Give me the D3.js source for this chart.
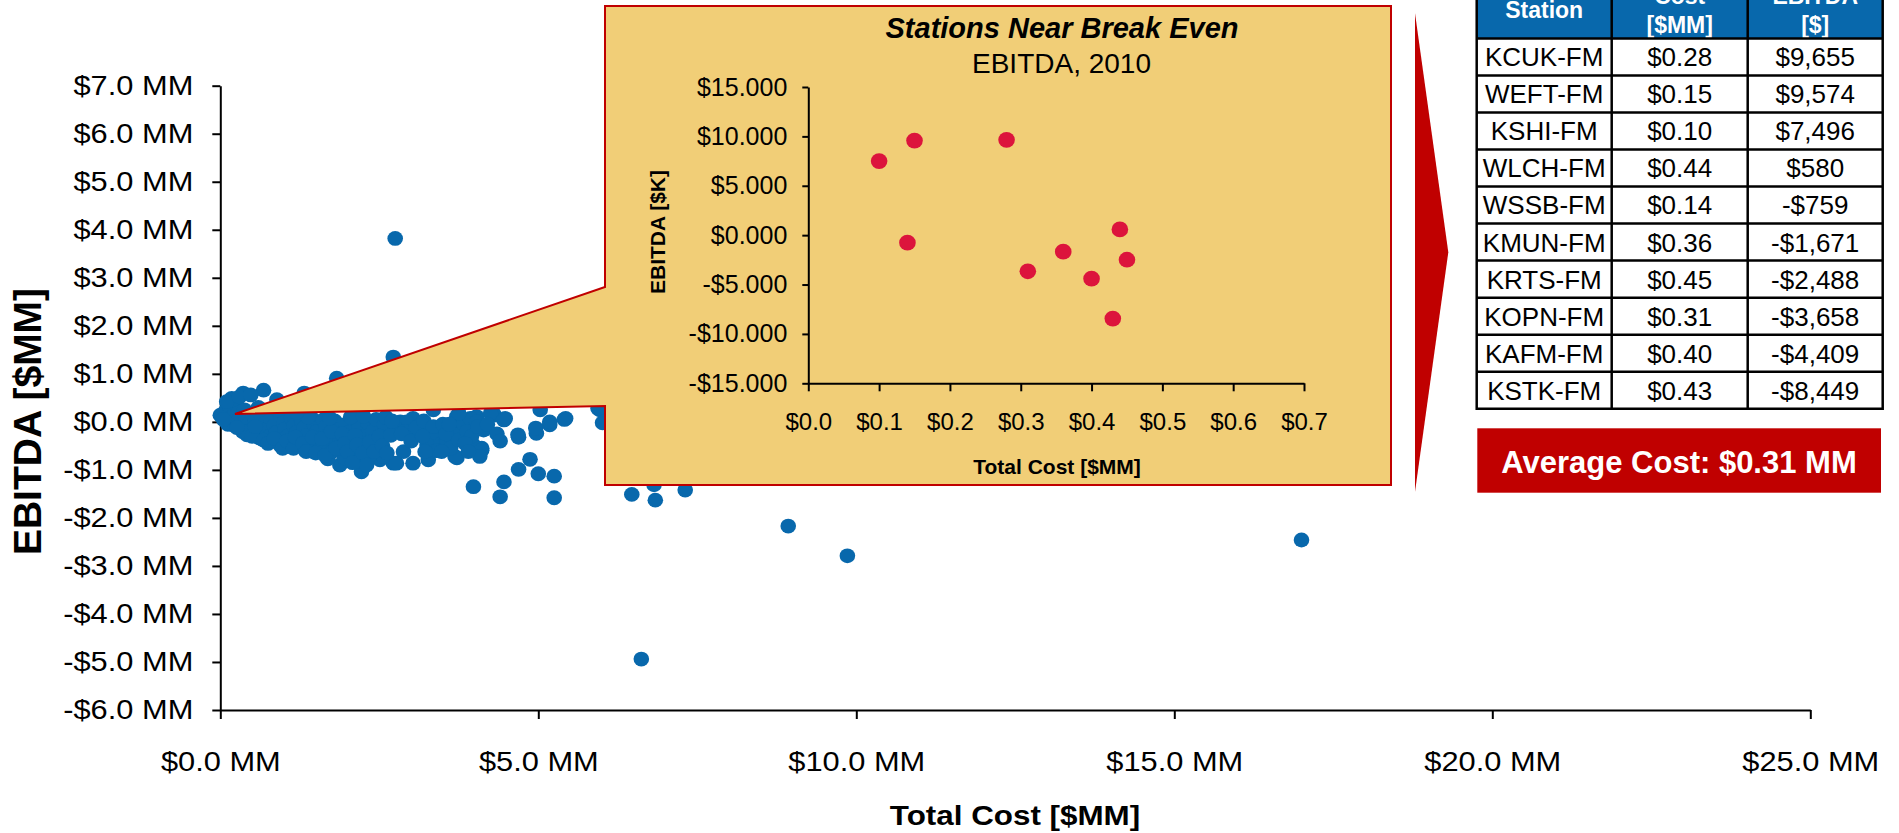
<!DOCTYPE html>
<html><head><meta charset="utf-8">
<script src="https://cdn.jsdelivr.net/npm/d3@7"></script>
<style>
body{margin:0;background:#fff;}
svg{display:block;}
text{font-family:Arial,"Liberation Sans",sans-serif;}
</style>
</head><body>
<svg id="c" width="1899" height="833"></svg>
<script>
// ---------- DATA ----------
const xTicks = [0, 5, 10, 15, 20, 25];
const yTicks = [-6, -5, -4, -3, -2, -1, 0, 1, 2, 3, 4, 5, 6, 7];
// all stations: total cost [$MM] and EBITDA [$MM]
const totalCost = [
 2.75,2.72,6.62,8.93,9.86,17.00,6.47,6.84,7.31,6.82,6.01,5.97,
 0.00,0.18,0.36,0.68,1.83,0.20,0.89,1.32,
 0.20,0.42,0.62,0.94,1.41,1.88,2.22,2.51,2.72,3.03,3.27,3.69,3.98,4.40,4.11,
 0.73,1.04,1.25,1.52,1.78,2.04,2.30,2.41,2.62,2.83,3.03,3.30,3.45,3.66,3.82,4.03,4.14,4.29,
 3.35,2.56,2.72,3.01,2.93,3.14,3.30,3.40,3.45,3.56,3.72,3.82,3.93,4.03,3.98,4.11,4.08,3.72,2.77,2.56,2.88,
 4.31,4.48,4.69,4.97,5.18,5.41,5.03,5.94,4.87,4.69,4.46,5.00,5.25,5.25,
 3.75,4.25,4.46,5.43,4.68,4.96,5.18,1.69,
 0.03,0.08,0.10,0.15,0.18,0.22,0.25,0.28,0.30,0.33,0.38,0.40,0.45,0.48,0.52,0.55,0.58,0.62,0.65,0.70,
 0.72,0.78,0.80,0.85,0.88,0.92,0.95,1.00,1.02,1.06,1.10,1.12,1.16,1.20,1.25,1.28,1.32,1.36,1.40,1.45,
 1.48,1.52,1.55,1.58,1.62,1.66,1.70,1.72,1.76,1.80,1.84,1.88,1.90,1.95,1.98,2.02,2.06,2.10,2.14,2.18,
 2.20,2.25,2.28,2.32,2.36,2.40,2.45,2.48,2.52,2.58,2.75,2.90,3.08,3.20,3.25,3.35,3.40,3.50,3.55,3.62,
 3.75,3.88,3.95,4.05,4.20,4.35,4.40,
 0.35,0.50,0.55,0.68,0.75,0.85,0.98,1.05,1.15,1.18,1.30,1.35,1.45,1.50,1.60,1.65,1.75,1.82,1.92,1.96,
 2.00,2.08,2.12,2.15,2.24,2.30,2.35,2.42,2.50,2.55,2.62,2.68,2.85,3.00,3.18,3.22,3.48,3.60,3.85,3.90,
 0.12,0.26,0.05,1.38,1.72,2.05,2.25,2.60,2.70,0.60,0.90,1.20,0.10,0.30,0.48
];
const ebitdaMM = [
 3.82,1.35,-4.94,-2.17,-2.79,-2.46,-1.51,-1.63,-1.42,-1.31,-0.02,0.25,
 0.14,0.49,0.60,0.66,0.91,0.46,0.46,0.60,
 -0.06,-0.27,-0.34,-0.48,-0.58,-0.90,-1.04,-0.79,-0.86,-0.86,-0.79,-0.72,-1.35,-1.56,-0.55,
 -0.10,-0.20,-0.10,-0.24,-0.38,-0.31,-0.13,-0.45,-0.10,0.00,0.07,-0.20,-0.38,-0.17,0.04,0.11,-0.17,0.18,
 0.25,-0.17,-0.20,-0.27,0.00,-0.06,-0.38,-0.31,-0.48,-0.38,0.11,-0.03,0.07,0.00,-0.48,-0.59,-0.72,-0.75,-0.86,-0.72,-0.62,
 0.14,0.07,-0.32,-0.24,-0.06,0.05,0.25,0.28,-0.78,-0.99,-1.25,-1.08,-1.13,-1.58,
 0.18,0.18,0.04,0.07,-0.27,-0.13,0.00,-0.77,
 0.12,0.22,0.02,0.30,0.10,-0.02,0.38,0.18,0.05,-0.10,0.25,0.08,-0.05,-0.18,0.15,0.02,-0.12,-0.25,0.10,-0.03,
 -0.16,-0.30,0.05,-0.08,-0.22,-0.38,0.12,-0.02,-0.15,-0.30,-0.45,0.08,-0.08,-0.22,-0.36,0.02,-0.12,-0.28,-0.48,0.06,
 -0.06,-0.20,-0.40,-0.55,0.04,-0.10,-0.28,-0.45,-0.62,0.02,-0.16,-0.36,-0.52,-0.75,-0.05,-0.22,-0.42,-0.60,0.08,-0.12,
 -0.80,-0.30,-0.52,-0.02,-0.68,-0.20,0.05,-0.38,-0.58,-0.05,-0.12,-0.20,-0.12,0.02,-0.48,-0.10,-0.60,-0.05,-0.25,-0.55,
 -0.38,-0.20,-0.30,-0.10,-0.05,-0.25,-0.40,
 -0.20,-0.30,-0.10,-0.38,-0.45,-0.35,-0.55,-0.40,-0.55,-0.32,-0.45,-0.62,-0.32,-0.65,-0.35,-0.70,-0.20,-0.55,-0.25,-0.45,
 -0.62,-0.85,-0.28,-0.48,-0.65,-0.90,-0.42,-0.62,-0.30,-0.50,-0.65,-0.28,-0.25,-0.40,-0.30,-0.62,-0.62,-0.05,-0.45,-0.62,
 -0.05,-0.12,0.05,0.10,0.08,0.10,0.12,0.10,0.02,0.30,0.25,0.20,0.42,0.52,0.56
];
// stations near break even
const stations = ["KCUK-FM","WEFT-FM","KSHI-FM","WLCH-FM","WSSB-FM","KMUN-FM","KRTS-FM","KOPN-FM","KAFM-FM","KSTK-FM"];
const stationCost = [0.28,0.15,0.10,0.44,0.14,0.36,0.45,0.31,0.40,0.43];
const stationEbitda = [9655,9574,7496,580,-759,-1671,-2488,-3658,-4409,-8449];
const insetXTicks = [0,0.1,0.2,0.3,0.4,0.5,0.6,0.7];
const insetYTicks = [-15,-10,-5,0,5,10,15];
const headers = [["Station"],["Cost","[$MM]"],["EBITDA","[$]"]];
const insetTitle = "Stations Near Break Even";
const insetSubtitle = "EBITDA, 2010";
const averageLabel = "Average Cost: $0.31 MM";

// ---------- DRAW ----------
const svg = d3.select("#c");
const RED = "#C00000", BLUE = "#0868AC", GOLD = "#F1CE77";
const FONT = 'Arial,"Liberation Sans",sans-serif';

function stretch(sel, f){
  sel.each(function(){
    const l = this.getComputedTextLength();
    this.setAttribute("textLength", l*f);
    this.setAttribute("lengthAdjust","spacingAndGlyphs");
  });
}

const x = d3.scaleLinear().domain([0,25]).range([220.3,1810.3]);
const y = d3.scaleLinear().domain([-6,7]).range([710,85.7]);

const money1 = d => (d<0?"-":"") + "$" + Math.abs(d).toFixed(1) + " MM";

const gx = svg.append("g").attr("transform","translate(0,710)")
  .call(d3.axisBottom(x).tickValues(xTicks).tickSize(9).tickSizeOuter(0).tickFormat(money1));
gx.attr("font-size",28).attr("font-family",FONT);
gx.selectAll("text").attr("y",61).attr("dy",0).attr("fill","#000");

const gy = svg.append("g").attr("transform","translate(220.3,0)")
  .call(d3.axisLeft(y).tickValues(yTicks).tickSize(8).tickPadding(19).tickSizeOuter(0).tickFormat(money1));
gy.attr("font-size",28).attr("font-family",FONT);
gy.selectAll("text").attr("fill","#000");

[gx,gy].forEach(g=>{
  g.select(".domain").attr("stroke","#000").attr("stroke-width",2);
  g.selectAll(".tick line").attr("stroke","#000").attr("stroke-width",2);
});
stretch(gx.selectAll("text"),1.1);
stretch(gy.selectAll("text"),1.1);

const xt = svg.append("text").attr("x",1015).attr("y",825).attr("text-anchor","middle")
  .attr("font-size",28).attr("font-weight","bold").text("Total Cost [$MM]");
stretch(xt,1.12);
svg.append("text").attr("transform","translate(41,421.5) rotate(-90)").attr("text-anchor","middle")
  .attr("font-size",39).attr("font-weight","bold").text("EBITDA [$MM]");

// main dots
svg.append("g").selectAll("ellipse").data(totalCost.map((c,i)=>[c,ebitdaMM[i]])).join("ellipse")
  .attr("cx",d=>x(d[0])).attr("cy",d=>y(d[1])).attr("rx",7.8).attr("ry",7.4).attr("fill",BLUE);

// callout box
svg.append("path")
  .attr("d","M605,6 H1391 V485 H605 V406 L235,414 L605,287 Z")
  .attr("fill",GOLD).attr("stroke",RED).attr("stroke-width",2).attr("stroke-linejoin","miter");

// inset chart
const ix = d3.scaleLinear().domain([0,0.7]).range([808.3,1304]);
const iy = d3.scaleLinear().domain([-15,15]).range([383.3,87]);
const igx = svg.append("g").attr("transform","translate(0,383.3)")
  .call(d3.axisBottom(ix).tickValues(insetXTicks).tickSize(8).tickSizeOuter(0).tickFormat(d=>"$"+d.toFixed(1)));
igx.attr("font-size",24).attr("font-family",FONT);
igx.selectAll("text").attr("y",47).attr("dy",0).attr("fill","#000");
const igy = svg.append("g").attr("transform","translate(808.3,0)")
  .call(d3.axisLeft(iy).tickValues(insetYTicks).tickSize(6).tickPadding(15).tickSizeOuter(0)
  .tickFormat(d=>(d<0?"-":"")+"$"+Math.abs(d).toFixed(3)));
igy.attr("font-size",25).attr("font-family",FONT);
igy.selectAll("text").attr("fill","#000");
[igx,igy].forEach(g=>{
  g.select(".domain").attr("stroke","#000").attr("stroke-width",2);
  g.selectAll(".tick line").attr("stroke","#000").attr("stroke-width",2);
});

svg.append("text").attr("x",1062).attr("y",38).attr("text-anchor","middle")
  .attr("font-size",29).attr("font-weight","bold").attr("font-style","italic").text(insetTitle);
svg.append("text").attr("x",1061.5).attr("y",72.5).attr("text-anchor","middle")
  .attr("font-size",28).text(insetSubtitle);
svg.append("text").attr("x",1057).attr("y",474).attr("text-anchor","middle")
  .attr("font-size",21).attr("font-weight","bold").text("Total Cost [$MM]");
svg.append("text").attr("transform","translate(665,232) rotate(-90)").attr("text-anchor","middle")
  .attr("font-size",21).attr("font-weight","bold").text("EBITDA [$K]");

svg.append("g").selectAll("ellipse").data(stationCost.map((c,i)=>[c,stationEbitda[i]/1000])).join("ellipse")
  .attr("cx",d=>ix(d[0])).attr("cy",d=>iy(d[1])).attr("rx",8.3).attr("ry",7.9).attr("fill","#DC143C");

// chevron arrow
svg.append("path").attr("d","M1415,13.3 L1448.3,252.3 L1415,491.7 Z").attr("fill",RED);

// table
const colX = [1476.7,1611.7,1747.7,1882.7];
const rowTop = 38.5, rowH = 37.02;
const tg = svg.append("g");
tg.append("rect").attr("x",colX[0]).attr("y",-30).attr("width",colX[3]-colX[0]).attr("height",rowTop+30).attr("fill",BLUE);
headers.forEach((h,i)=>{
  const cx = (colX[i]+colX[i+1])/2;
  if(h.length===1){
    tg.append("text").attr("x",cx).attr("y",18.3).attr("text-anchor","middle").attr("fill","#fff")
      .attr("font-size",23).attr("font-weight","bold").text(h[0]);
  } else {
    tg.append("text").attr("x",cx).attr("y",4).attr("text-anchor","middle").attr("fill","#fff")
      .attr("font-size",23).attr("font-weight","bold").text(h[0]);
    tg.append("text").attr("x",cx).attr("y",33).attr("text-anchor","middle").attr("fill","#fff")
      .attr("font-size",23).attr("font-weight","bold").text(h[1]);
  }
});
const fmtE = v => (v<0?"-":"")+"$"+d3.format(",")(Math.abs(v));
stations.forEach((s,r)=>{
  const cy = rowTop + rowH*(r+0.5) + 9.4;
  const vals = [s, "$"+stationCost[r].toFixed(2), fmtE(stationEbitda[r])];
  vals.forEach((v,i)=>{
    tg.append("text").attr("x",(colX[i]+colX[i+1])/2).attr("y",cy).attr("text-anchor","middle")
      .attr("font-size",26).attr("fill","#000").text(v);
  });
});
const tableBottom = rowTop + rowH*stations.length;
for(let r=0;r<=stations.length;r++){
  tg.append("line").attr("x1",colX[0]).attr("x2",colX[3]).attr("y1",rowTop+rowH*r).attr("y2",rowTop+rowH*r)
    .attr("stroke","#000").attr("stroke-width",2.5);
}
colX.forEach(cx=>{
  tg.append("line").attr("x1",cx).attr("x2",cx).attr("y1",-5).attr("y2",tableBottom+1.2)
    .attr("stroke","#000").attr("stroke-width",2.5);
});

// average box
svg.append("rect").attr("x",1477.3).attr("y",428.3).attr("width",403.7).attr("height",64.4).attr("fill",RED);
svg.append("text").attr("x",1679).attr("y",473).attr("text-anchor","middle").attr("fill","#fff")
  .attr("font-size",31).attr("font-weight","bold").text(averageLabel);
</script>
</body></html>
